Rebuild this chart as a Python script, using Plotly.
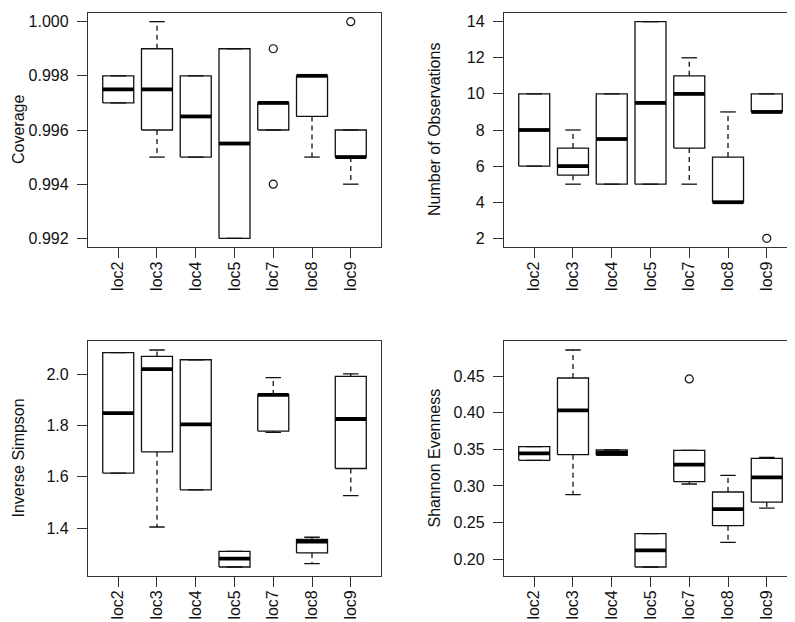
import plotly.graph_objects as go

categories = ["loc2", "loc3", "loc4", "loc5", "loc7", "loc8", "loc9"]

# Coverage
cov_lw  = [0.997, 0.995, 0.995, 0.992, 0.996, 0.995, 0.994]
cov_q1  = [0.997, 0.996, 0.995, 0.992, 0.996, 0.9965, 0.995]
cov_med = [0.9975, 0.9975, 0.9965, 0.9955, 0.997, 0.998, 0.995]
cov_q3  = [0.998, 0.999, 0.998, 0.999, 0.997, 0.998, 0.996]
cov_uw  = [0.998, 1.000, 0.998, 0.999, 0.997, 0.998, 0.996]
cov_out_x = ["loc7", "loc7", "loc9"]
cov_out_y = [0.999, 0.994, 1.000]

# Number of Observations
obs_lw  = [6, 5, 5, 5, 5, 4, 9]
obs_q1  = [6, 5.5, 5, 5, 7, 4, 9]
obs_med = [8, 6, 7.5, 9.5, 10, 4, 9]
obs_q3  = [10, 7, 10, 14, 11, 6.5, 10]
obs_uw  = [10, 8, 10, 14, 12, 9, 10]
obs_out_x = ["loc9"]
obs_out_y = [2]

# Inverse Simpson
inv_lw  = [1.614, 1.404, 1.549, 1.248, 1.773, 1.261, 1.526]
inv_q1  = [1.614, 1.697, 1.549, 1.248, 1.778, 1.303, 1.632]
inv_med = [1.848, 2.019, 1.804, 1.2805, 1.919, 1.347, 1.825]
inv_q3  = [2.084, 2.069, 2.056, 1.309, 1.919, 1.356, 1.991]
inv_uw  = [2.084, 2.094, 2.056, 1.309, 1.986, 1.364, 2.001]
inv_out_x = []
inv_out_y = []

# Shannon Evenness
sha_lw  = [0.335, 0.288, 0.3419, 0.1891, 0.3027, 0.2228, 0.2698]
sha_q1  = [0.335, 0.3428, 0.3419, 0.1891, 0.3058, 0.2456, 0.278]
sha_med = [0.3446, 0.4035, 0.3451, 0.2119, 0.3291, 0.2684, 0.3118]
sha_q3  = [0.3537, 0.4477, 0.3492, 0.2347, 0.3487, 0.2917, 0.3378]
sha_uw  = [0.3537, 0.486, 0.3492, 0.2347, 0.3487, 0.3145, 0.339]
sha_out_x = ["loc7"]
sha_out_y = [0.4464]

y_titles = ["Coverage", "Number of Observations", "Inverse Simpson", "Shannon Evenness"]
y_ticks = [
    [0.992, 0.994, 0.996, 0.998, 1.000],
    [2, 4, 6, 8, 10, 12, 14],
    [1.4, 1.6, 1.8, 2.0],
    [0.20, 0.25, 0.30, 0.35, 0.40, 0.45],
]
y_ticktext = [
    ["0.992", "0.994", "0.996", "0.998", "1.000"],
    ["2", "4", "6", "8", "10", "12", "14"],
    ["1.4", "1.6", "1.8", "2.0"],
    ["0.20", "0.25", "0.30", "0.35", "0.40", "0.45"],
]

panels = [
    (cov_lw, cov_q1, cov_med, cov_q3, cov_uw, cov_out_x, cov_out_y),
    (obs_lw, obs_q1, obs_med, obs_q3, obs_uw, obs_out_x, obs_out_y),
    (inv_lw, inv_q1, inv_med, inv_q3, inv_uw, inv_out_x, inv_out_y),
    (sha_lw, sha_q1, sha_med, sha_q3, sha_uw, sha_out_x, sha_out_y),
]

W, H = 795, 622
x_domains = [[80 / W, 373 / W], [496 / W, 789 / W]]
y_domains = [[1 - 239 / H, 1 - 5 / H], [1 - 567.7 / H, 1 - 333.3 / H]]

FONT = "Liberation Sans, Arial, Helvetica, sans-serif"
FS = 16
LINE = "#111111"
HALF = 0.4
CAP = 0.2

fig = go.Figure()
layout = {}
annotations = []
for k, (lw, q1, med, q3, uw, ox, oy) in enumerate(panels):
    row, col = divmod(k, 2)
    xa = "x" if k == 0 else f"x{k+1}"
    ya = "y" if k == 0 else f"y{k+1}"
    pos = list(range(1, len(categories) + 1))

    bx, by, mx, my, wx, wy, cx, cy = [], [], [], [], [], [], [], []
    for i, p in enumerate(pos):
        bx += [p - HALF, p + HALF, p + HALF, p - HALF, p - HALF, None]
        by += [q1[i], q1[i], q3[i], q3[i], q1[i], None]
        mx += [p - HALF, p + HALF, None]
        my += [med[i], med[i], None]
        if uw[i] > q3[i]:
            wx += [p, p, None]
            wy += [q3[i], uw[i], None]
        if lw[i] < q1[i]:
            wx += [p, p, None]
            wy += [q1[i], lw[i], None]
        cx += [p - CAP, p + CAP, None, p - CAP, p + CAP, None]
        cy += [uw[i], uw[i], None, lw[i], lw[i], None]

    common = dict(xaxis=xa, yaxis=ya, showlegend=False, hoverinfo="skip", mode="lines")
    fig.add_trace(go.Scatter(x=wx, y=wy, line=dict(color=LINE, width=1.3, dash="5px,4px"), **common))
    fig.add_trace(go.Scatter(x=cx, y=cy, line=dict(color=LINE, width=1.3), **common))
    fig.add_trace(go.Scatter(x=bx, y=by, line=dict(color=LINE, width=1.3), **common))
    fig.add_trace(go.Scatter(x=mx, y=my, line=dict(color="#000000", width=3.8), **common))
    if ox:
        opos = [categories.index(c) + 1 for c in ox]
        fig.add_trace(go.Scatter(
            x=opos, y=oy, mode="markers", xaxis=xa, yaxis=ya, showlegend=False,
            marker=dict(symbol="circle-open", size=8, color=LINE, line=dict(width=1.2)),
        ))

    ymin = min(lw + list(oy))
    ymax = max(uw + list(oy))
    ext = (ymax - ymin) * 0.04

    xkey = "xaxis" if k == 0 else f"xaxis{k+1}"
    ykey = "yaxis" if k == 0 else f"yaxis{k+1}"
    layout[xkey] = dict(
        domain=x_domains[col], anchor=ya, range=[0.5 - 7 * 0.04, 7.5 + 7 * 0.04],
        tickmode="array", tickvals=pos, ticktext=categories, tickangle=-90,
        ticks="outside", ticklen=10, tickwidth=1.3, tickcolor="#333333",
        ticklabelstandoff=-3,
        showline=True, mirror=True, linecolor="#333333", linewidth=1.3,
        showgrid=False, zeroline=False, fixedrange=True,
        tickfont=dict(family=FONT, size=FS, color="#111111"),
    )
    layout[ykey] = dict(
        domain=y_domains[row], anchor=xa, range=[ymin - ext, ymax + ext],
        tickmode="array", tickvals=y_ticks[k], ticktext=y_ticktext[k],
        ticks="outside", ticklen=10, tickwidth=1.3, tickcolor="#333333",
        ticklabelstandoff=5,
        showline=True, mirror=True, linecolor="#333333", linewidth=1.3,
        showgrid=False, zeroline=False, fixedrange=True,
        tickfont=dict(family=FONT, size=FS, color="#111111"),
    )
    annotations.append(dict(
        text=y_titles[k], xref=f"{xa} domain", yref=f"{ya} domain",
        x=0, y=0.5, xanchor="center", yanchor="middle", xshift=-70,
        textangle=-90, showarrow=False,
        font=dict(family=FONT, size=FS, color="#111111"),
    ))

fig.update_layout(
    width=W, height=H,
    margin=dict(l=0, r=0, t=0, b=0),
    paper_bgcolor="white", plot_bgcolor="white",
    annotations=annotations,
    **layout,
)

fig.write_html("out.html")
